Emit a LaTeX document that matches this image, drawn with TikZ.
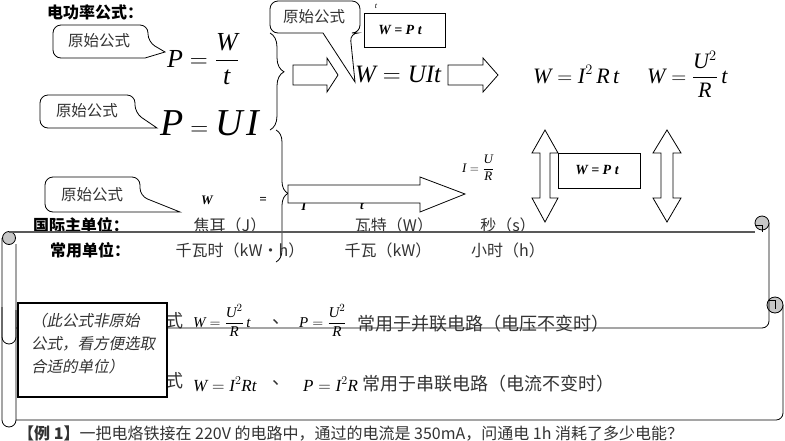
\documentclass[tikz,border=0pt]{standalone}
\usepackage{amsmath}
\usepackage{fontspec}
\setmainfont{Liberation Serif}
\newfontfamily\cjk{Noto Sans CJK SC}
\newfontfamily\cjkit[FakeSlant=0.2]{Noto Sans CJK SC}
\usetikzlibrary{decorations.pathreplacing}
\newcommand{\fsz}[1]{\fontsize{#1}{#1}\selectfont}
\newcommand{\vi}[1]{\textit{#1}}
\tikzset{
  ctxt/.style={font=\cjk\fsz{15.5}, text=black!80, inner sep=0pt},
  cn/.style={font=\cjk\fsz{16}, text=black!80, inner sep=0pt},
  cnb/.style={font=\cjk\bfseries\fsz{16}, text=black, inner sep=0pt},
  cnl/.style={font=\cjk\fsz{18}, text=black!80, inner sep=0pt},
  callshape/.style={draw=black, fill=white, line width=0.8pt},
  hollow/.style={draw=black, fill=white, line width=0.8pt, line join=miter},
  fbox/.style={draw=black, fill=white, line width=0.9pt, inner sep=0pt},
  wpt/.style={font=\bfseries\itshape\fsz{14}},
  wbi/.style={font=\bfseries\itshape\fsz{13}, inner sep=0pt},
  bracestyle/.style={draw=black, line width=0.8pt, decorate},
  scrl/.style={draw=black, line width=0.8pt},
  scrtop/.style={draw=black!65, line width=1.8pt},
  roll/.style={draw=black, fill=black!22, line width=0.8pt},
  fml/.style={inner sep=0pt, anchor=base west},
}
\begin{document}
\begin{tikzpicture}[x=1pt,y=1pt]
\useasboundingbox (0,0) rectangle (785,-440);
\fill[white] (0,0) rectangle (785,-440);

% ---------- scrolls ----------
% scroll 2 (lower)
\draw[scrl] (2,-307) -- (2,-420) arc[start angle=180,end angle=360,radius=7] -- (16,-310);
\draw[scrl, rounded corners=7] (16,-420) -- (783,-420) -- (783,-305);
\draw[roll] (775,-305) circle (8);
\draw[scrl, line width=0.6pt] (768,-300) -- (775,-300) -- (775,-309);
% scroll 1 (upper)
\draw[scrl] (2,-238) -- (2,-337) arc[start angle=180,end angle=360,radius=7] -- (16,-244);
\draw[scrl, rounded corners=7] (16,-328) -- (769,-328) -- (769,-223);
\draw[roll] (9,-238) circle (6.5);
\draw[roll] (762,-223) circle (7);
\draw[scrl, line width=0.6pt] (755,-225) -- (762,-225) -- (762,-232);

% ---------- braces ----------
\draw[bracestyle, decoration={brace, amplitude=14pt, aspect=0.4}] (270,-33) -- (270,-130);
\draw[bracestyle, decoration={brace, amplitude=12pt, aspect=0.48}] (276,-130) -- (276,-262);

% ---------- title ----------
\node[cnb] (title) at (95,-12) {电功率公式：};

% ---------- formulas top-left ----------
\node[fml, font=\fsz{26}] (pwt) at (167,-67) {$\vi{P}=\dfrac{\vi{W}}{\vi{t}}$};
\node[fml, font=\fsz{38}] (pui) at (160,-135) {$\vi{P}=\vi{U}\,\vi{I}$};

% ---------- callouts ----------
\path[callshape] (100,-25) [rounded corners=8] -- (148,-25) -- (148,-42) [sharp corners] -- (165,-52) -- (145,-58) [rounded corners=8] -- (53,-58) -- (53,-25) -- cycle;
\node[ctxt] (c1) at (99,-41) {原始公式};

\path[callshape] (88,-95) [rounded corners=8] -- (135,-95) -- (135,-113) [sharp corners] -- (157,-128) -- (127,-128) [rounded corners=8] -- (40,-128) -- (40,-95) -- cycle;
\node[ctxt] (c2) at (87,-111) {原始公式};

\path[callshape] (92,-177) [rounded corners=8] -- (140,-177) -- (140,-196) [sharp corners] -- (180,-212) -- (130,-212) [rounded corners=8] -- (45,-212) -- (45,-177) -- cycle;
\node[ctxt] (c3) at (92,-195) {原始公式};

% ---------- W = I t row (partly covered) ----------
\node[wbi] (rw) at (207,-200) {W};
\node[wbi] (req) at (263,-200) {=};
\node[wbi] (ri) at (304,-206) {I};
\node[wbi] (rt) at (362,-206) {t};

% ---------- big arrow ----------
\draw[hollow] (288,-185) -- (420,-185) -- (420,-177) -- (465,-194) -- (420,-212) -- (420,-203) -- (288,-203) -- cycle;

% ---------- top row ----------
\node[fml, font=\fsz{25}] (wuit) at (355,-82) {$\vi{W}=\vi{UIt}$};
\draw[hollow] (293,-65) -- (327,-65) -- (327,-58) -- (338,-75) -- (327,-92) -- (327,-85) -- (293,-85) -- cycle;
\draw[hollow] (448,-65) -- (483,-65) -- (483,-58) -- (498,-75) -- (483,-92) -- (483,-85) -- (448,-85) -- cycle;
\node[fml, font=\fsz{22}] (wirt) at (533,-83) {$\vi{W}=\vi{I}^{2}\,\vi{R}\,\vi{t}$};
\node[fml, font=\fsz{22}] (wurt) at (647,-83) {$\vi{W}=\dfrac{\vi{U}^{2}}{\vi{R}}\,\vi{t}$};

\node[fbox, minimum width=81pt, minimum height=34pt] (box1) at (404.5,-30) {};
\node[wpt] (box1t) at (400,-30) {W = P t};
\node[font=\itshape\fsz{8}, inner sep=0pt] (tsmall) at (376,-6) {t};

\path[callshape] (315,-1) [rounded corners=8] -- (360,-1) -- (360,-33) -- (350,-33) [sharp corners] -- (355,-82) -- (323,-33) [rounded corners=8] -- (270,-33) -- (270,-1) -- cycle;
\node[ctxt] (c4) at (314,-17) {原始公式};

% ---------- middle right ----------
\node[fml, font=\fsz{13}] (iur) at (462,-172) {$\vi{I}=\dfrac{\vi{U}}{\vi{R}}$};
\draw[hollow] (545,-130) -- (558,-153) -- (550,-153) -- (550,-198) -- (558,-198) -- (545,-222) -- (532,-198) -- (540,-198) -- (540,-153) -- (532,-153) -- cycle;
\node[fbox, minimum width=82pt, minimum height=35pt] (box2) at (599,-170.5) {};
\node[wpt] (box2t) at (597,-170.5) {W = P t};
\draw[hollow] (667,-130) -- (681,-153) -- (673,-153) -- (673,-198) -- (681,-198) -- (667,-222) -- (653,-198) -- (661,-198) -- (661,-153) -- (653,-153) -- cycle;

% ---------- unit rows ----------
\node[cnb] (u1) at (81,-225) {国际主单位：};
\node[cn] (u1a) at (230,-225) {焦耳（J）};
\node[cn] (u1b) at (394,-225) {瓦特（W）};
\node[cn] (u1c) at (508,-225) {秒（s）};
\node[cnb] (u2) at (90,-250) {常用单位：};
\node[cn] (u2a) at (240,-250) {千瓦时（kW•h）};
\node[cn] (u2b) at (388,-250) {千瓦（kW）};
\node[cn] (u2c) at (508,-250) {小时（h）};
\draw[scrtop] (9,-232) -- (755,-232);

% ---------- formula lines ----------
\node[cnl] (s1) at (174,-321) {式};
\node[fml, font=\fsz{15}] (f1a) at (193,-327) {$\vi{W}=\dfrac{\vi{U}^{2}}{\vi{R}}\,\vi{t}$};
\node[cnl] (d1) at (281,-322) {、};
\node[fml, font=\fsz{15}] (f1b) at (299,-327) {$\vi{P}=\dfrac{\vi{U}^{2}}{\vi{R}}$};
\node[cnl, anchor=base west] (t1) at (357,-330) {常用于并联电路（电压不变时）};

\node[cnl] (s2) at (174,-381) {式};
\node[fml, font=\fsz{17}] (f2a) at (193,-391) {$\vi{W}=\vi{I}^{2}\vi{R}\vi{t}$};
\node[cnl] (d2) at (281,-383) {、};
\node[fml, font=\fsz{17}] (f2b) at (303,-391) {$\vi{P}=\vi{I}^{2}\vi{R}$};
\node[cnl, anchor=base west] (t2) at (362,-390) {常用于串联电路（电流不变时）};

% ---------- note box ----------
\draw[line width=1.8pt, fill=white] (18,-303) rectangle (167,-397);
\node[anchor=north west, align=left, inner sep=0pt, text=black!80,
      font={\cjkit\fontsize{15.5}{23}\selectfont}] (note) at (31,-313)
      {（此公式非原始\\公式，看方便选取\\合适的单位）};

% ---------- example ----------
\node[cn, anchor=base west] (ex) at (18,-439) {{\bfseries 【例 1】}一把电烙铁接在 220V 的电路中，通过的电流是 350mA，问通电 1h 消耗了多少电能？};
\end{tikzpicture}
\end{document}
